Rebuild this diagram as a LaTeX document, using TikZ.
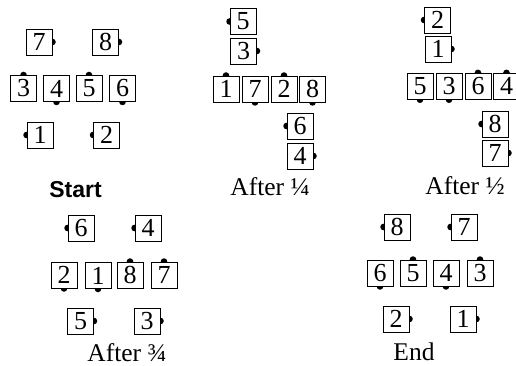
\documentclass[tikz,border=0pt]{standalone}
\usepackage{fontspec}
\setmainfont{Liberation Serif}
\newfontfamily\labsans{Liberation Sans}
\usetikzlibrary{backgrounds}
\tikzset{
  card/.style={draw=black, line width=0.9pt, fill=white, minimum width=26pt, minimum height=26pt, inner sep=0pt, font=\fontsize{26}{26}\selectfont},
  caption/.style={font=\fontsize{25.5}{25.5}\selectfont, inner sep=0pt},
  captionbold/.style={font=\labsans\bfseries\fontsize{23}{23}\selectfont, inner sep=0pt},
  tab/.style={fill=black}
}
\newcommand{\tabat}[1]{\begin{pgfonlayer}{background}\fill[tab] (#1) circle (3.3pt);\end{pgfonlayer}}
\begin{document}
\begin{tikzpicture}[x=1pt,y=-1pt]
\useasboundingbox (0,0) rectangle (516,366);
% Start
\node[card] (s7) at (39,42) {7};
\node[card] (s8) at (105.5,42) {8};
\node[card] (s3) at (23.5,88.5) {3};
\node[card] (s4) at (56.5,88.5) {4};
\node[card] (s5) at (89,88.5) {5};
\node[card] (s6) at (122.5,88.5) {6};
\node[card] (s1) at (40,135) {1};
\node[card] (s2) at (106.5,135) {2};
\node[captionbold] (ls) at (75.5,189.5) {Start};
\tabat{s7.east}\tabat{s8.east}\tabat{s3.north}\tabat{s4.south}
\tabat{s5.north}\tabat{s6.south}\tabat{s1.west}\tabat{s2.west}
% After 1/4
\node[card] (a5) at (243,21.5) {5};
\node[card] (a3) at (243.5,51) {3};
\node[card] (a1) at (226,89) {1};
\node[card] (a7) at (255,89) {7};
\node[card] (a2) at (284,89) {2};
\node[card] (a8) at (312.5,89) {8};
\node[card] (a6) at (300,126) {6};
\node[card] (a4) at (300,156) {4};
\node[caption] (la) at (270,187) {After ¼};
\tabat{a5.west}\tabat{a3.east}\tabat{a1.north}\tabat{a7.south}
\tabat{a2.north}\tabat{a8.south}\tabat{a6.west}\tabat{a4.east}
% After 1/2
\node[card] (b2) at (437.5,20) {2};
\node[card] (b1) at (438,49) {1};
\node[card] (b5) at (420,86.3) {5};
\node[card] (b3) at (449,86.3) {3};
\node[card] (b6) at (478,86.3) {6};
\node[card] (b4) at (506.5,86.3) {4};
\node[card] (b8) at (495,124) {8};
\node[card] (b7) at (495,153) {7};
\node[caption] (lb) at (465,185.5) {After ½};
\tabat{b2.west}\tabat{b1.east}\tabat{b5.south}\tabat{b3.south}
\tabat{b6.north}\tabat{b4.north}\tabat{b8.west}\tabat{b7.east}
% After 3/4
\node[card] (c6) at (81,228) {6};
\node[card] (c4) at (148,228) {4};
\node[card] (c2) at (64,275) {2};
\node[card] (c1) at (98,275.5) {1};
\node[card] (c8) at (130,275) {8};
\node[card] (c7) at (164,275) {7};
\node[card] (c5) at (80.5,321) {5};
\node[card] (c3) at (147,321) {3};
\node[caption] (lc) at (127,353) {After ¾};
\tabat{c6.west}\tabat{c4.west}\tabat{c2.south}\tabat{c1.south}
\tabat{c8.north}\tabat{c7.north}\tabat{c5.east}\tabat{c3.east}
% End
\node[card] (d8) at (397,227) {8};
\node[card] (d7) at (464,227) {7};
\node[card] (d6) at (380,273) {6};
\node[card] (d5) at (413,273) {5};
\node[card] (d4) at (446,273) {4};
\node[card] (d3) at (480,273) {3};
\node[card] (d2) at (396,319) {2};
\node[card] (d1) at (463,319) {1};
\node[caption] (ld) at (414,352) {End};
\tabat{d8.west}\tabat{d7.west}\tabat{d6.south}\tabat{d5.north}
\tabat{d4.south}\tabat{d3.north}\tabat{d2.east}\tabat{d1.east}
\end{tikzpicture}
\end{document}
